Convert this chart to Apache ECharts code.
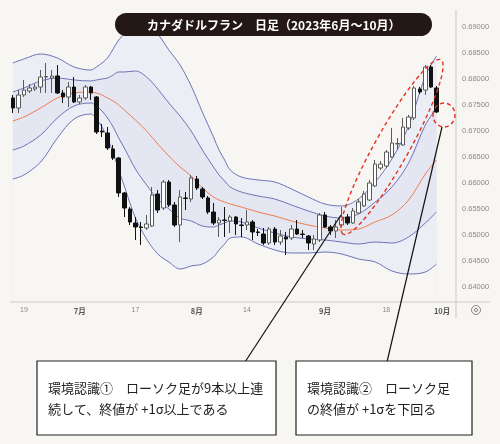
<!DOCTYPE html>
<html><head><meta charset="utf-8">
<script src="https://cdn.jsdelivr.net/npm/echarts@6/dist/echarts.min.js"></script>
<style>html,body{margin:0;padding:0;background:#f8f6f3;}#c{width:500px;height:444px;}</style>
</head><body><div id="c"></div>
<script>
const categories = [
'06-15','06-16','06-19','06-20','06-21','06-22','06-23','06-26','06-27','06-28','06-29','06-30',
'07-03','07-04','07-05','07-06','07-07','07-10','07-11','07-12','07-13','07-14','07-17','07-18','07-19','07-20','07-21','07-24','07-25','07-26','07-27','07-28','07-31',
'08-01','08-02','08-03','08-04','08-07','08-08','08-09','08-10','08-11','08-14','08-15','08-16','08-17','08-18','08-21','08-22','08-23','08-24','08-25','08-28','08-29','08-30','08-31',
'09-01','09-04','09-05','09-06','09-07','09-08','09-11','09-12','09-13','09-14','09-15','09-18','09-19','09-20','09-21','09-22','09-25','09-26','09-27','09-28','09-29',
'10-02','10-03','10-04'];
const tickDates = ['06-19','07-03','07-17','08-01','08-14','09-01','09-18','10-02'];
const tickTexts = ['19','7月','17','8月','14','9月','18','10月'];
const yTicks = [0.64,0.645,0.65,0.655,0.66,0.665,0.67,0.675,0.68,0.685,0.69];
const lastClose = 0.67366;

const opens = [0.67635,0.67442,0.67692,0.67769,0.67808,0.67846,0.68038,0.68019,0.68058,0.67731,
0.67654,0.67846,0.67558,0.67635,0.67846,0.67654,0.67000,0.66962,0.66654,0.66481,
0.65808,0.65500,0.65231,0.65154,0.65135,0.65173,0.65788,0.65519,0.66019,0.65577,
0.65192,0.65712,0.65692,0.66077,0.65885,0.65712,0.65442,0.65231,0.65288,0.65269,
0.65346,0.65192,0.65192,0.65250,0.65058,0.65019,0.64846,0.65115,0.64865,0.64962,
0.64942,0.65115,0.65019,0.64981,0.64827,0.64904,0.65385,0.65154,0.65077,0.65192,
0.65346,0.65231,0.65423,0.65558,0.65673,0.65942,0.66288,0.66327,0.66500,0.66750,
0.66731,0.67058,0.67250,0.67808,0.67788,0.68231,0.67827];
const closes = [0.67442,0.67692,0.67788,0.67827,0.67846,0.68038,0.68048,0.68058,0.67731,0.67654,
0.67846,0.67558,0.67635,0.67846,0.67731,0.66981,0.66981,0.66673,0.66481,0.65808,
0.65519,0.65250,0.65154,0.65144,0.65212,0.65769,0.65481,0.66019,0.65577,0.65192,
0.65731,0.65702,0.66096,0.65904,0.65731,0.65442,0.65231,0.65288,0.65279,0.65346,
0.65212,0.65183,0.65250,0.65058,0.65048,0.64846,0.65115,0.64865,0.64981,0.64923,
0.65115,0.65019,0.65010,0.64846,0.64923,0.65385,0.65154,0.65077,0.65154,0.65346,
0.65231,0.65462,0.65635,0.65788,0.66000,0.66365,0.66365,0.66596,0.66769,0.66760,
0.67077,0.67269,0.67827,0.67750,0.68231,0.67846,0.67366];
const lows = [0.67346,0.67346,0.67654,0.67731,0.67769,0.67731,0.67731,0.67731,0.67712,0.67538,
0.67462,0.67538,0.67519,0.67596,0.67596,0.66942,0.66885,0.66635,0.66442,0.65731,
0.65346,0.65192,0.64904,0.64808,0.65096,0.65154,0.65423,0.65481,0.65538,0.65154,
0.64865,0.65481,0.65635,0.65865,0.65692,0.65404,0.65192,0.64962,0.64962,0.65038,
0.65000,0.64962,0.65096,0.64904,0.64981,0.64808,0.64808,0.64808,0.64808,0.64615,
0.64904,0.65000,0.64942,0.64712,0.64712,0.64865,0.65135,0.65000,0.64942,0.65154,
0.65192,0.65212,0.65404,0.65538,0.65654,0.65923,0.66250,0.66288,0.66481,0.66635,
0.66712,0.67019,0.67212,0.67712,0.67692,0.67827,0.67346];
const highs = [0.67692,0.67788,0.67981,0.67904,0.67904,0.68173,0.68308,0.68173,0.68269,0.67788,
0.67942,0.68038,0.67692,0.67885,0.67865,0.67673,0.67135,0.67077,0.66731,0.66500,
0.65827,0.65538,0.65346,0.65250,0.65385,0.65923,0.65865,0.66058,0.66058,0.65635,
0.65865,0.65827,0.66154,0.66135,0.65923,0.65750,0.65615,0.65346,0.65538,0.65385,
0.65365,0.65327,0.65481,0.65288,0.65115,0.65135,0.65154,0.65154,0.65096,0.65058,
0.65192,0.65288,0.65096,0.65000,0.65000,0.65423,0.65442,0.65192,0.65288,0.65538,
0.65404,0.65519,0.65692,0.65846,0.66058,0.66442,0.66423,0.66635,0.67058,0.66865,
0.67250,0.67308,0.67865,0.67846,0.68269,0.68269,0.67865];

const bandIdx = [0,2,5,8,11,14,15,16,17,18,19,20,22,24,26,28,30,32,34,36,37,38,39,41,44,47,50,53,56,59,62,65,68,71,74,76];
const upper2 = [0.68308,0.68385,0.68481,0.68404,0.68231,0.68173,0.68231,0.68308,0.68404,0.68577,0.68750,0.68865,0.69096,0.69077,0.68865,0.68558,0.68269,0.67865,0.67365,0.66885,0.66635,0.66442,0.66250,0.66115,0.66058,0.66019,0.65885,0.65731,0.65596,0.65558,0.65692,0.66019,0.66462,0.67096,0.68058,0.68442];
const upper1 = [0.67750,0.67827,0.67962,0.68019,0.67981,0.67962,0.67981,0.68000,0.68019,0.68077,0.68135,0.68135,0.68154,0.68038,0.67808,0.67538,0.67288,0.67000,0.66635,0.66308,0.66154,0.66038,0.65923,0.65827,0.65750,0.65692,0.65577,0.65462,0.65365,0.65327,0.65404,0.65635,0.65923,0.66385,0.67115,0.67442];
const middle = [0.67192,0.67269,0.67442,0.67635,0.67731,0.67750,0.67731,0.67692,0.67635,0.67577,0.67500,0.67404,0.67212,0.67000,0.66750,0.66519,0.66308,0.66135,0.65904,0.65731,0.65673,0.65635,0.65596,0.65538,0.65442,0.65365,0.65269,0.65192,0.65135,0.65096,0.65115,0.65250,0.65385,0.65673,0.66173,0.66442];
const lower1 = [0.66635,0.66712,0.66923,0.67250,0.67481,0.67538,0.67481,0.67385,0.67250,0.67077,0.66865,0.66673,0.66269,0.65962,0.65692,0.65500,0.65327,0.65269,0.65173,0.65154,0.65192,0.65231,0.65269,0.65250,0.65135,0.65038,0.64962,0.64923,0.64904,0.64865,0.64827,0.64865,0.64846,0.64962,0.65231,0.65442];
const lower2 = [0.66077,0.66154,0.66404,0.66865,0.67231,0.67327,0.67231,0.67077,0.66865,0.66577,0.66250,0.65942,0.65327,0.64923,0.64635,0.64481,0.64346,0.64404,0.64442,0.64577,0.64712,0.64827,0.64942,0.64962,0.64827,0.64712,0.64654,0.64654,0.64673,0.64635,0.64538,0.64481,0.64308,0.64250,0.64288,0.64442];

const BG = '#f8f6f3';
const BAND_OUT = '#eceef5';
const BAND_IN = '#e4e7f1';
const LINE_BLUE = '#6c74b6';
const LINE_ORANGE = '#ee7c4e';
const CJK = '"Noto Sans CJK JP", "Noto Sans", sans-serif';

const ohlc = opens.map((o, i) => [o, closes[i], lows[i], highs[i]]);
const pts = arr => bandIdx.map((ix, k) => [ix, arr[k]]);

function bandSeries(name, arr, color, fill, z) {
  const s = {
    name, type: 'line', data: pts(arr), smooth: 0.35, symbol: 'none', z,
    lineStyle: { color, width: 1 }, silent: true, animation: false
  };
  if (fill) s.areaStyle = { color: fill, opacity: 1, origin: 'start' };
  return s;
}

const chart = echarts.init(document.getElementById('c'), null, { renderer: 'canvas' });
chart.setOption({
  backgroundColor: BG,
  animation: false,
  grid: { left: 10, right: 44, top: 10, bottom: 142, show: false },
  xAxis: {
    type: 'category', data: categories, boundaryGap: true,
    axisLine: { show: false }, axisTick: { show: false }, splitLine: { show: false },
    axisLabel: {
      interval: 0, margin: 5,
      formatter: v => {
        const k = tickDates.indexOf(v);
        if (k < 0) return '';
        const t = tickTexts[k];
        return t.indexOf('月') >= 0 ? '{m|' + t + '}' : '{d|' + t + '}';
      },
      rich: {
        m: { fontSize: 7.5, color: '#555', fontWeight: 'bold', fontFamily: CJK },
        d: { fontSize: 7, color: '#8a8a8a', fontFamily: 'Liberation Sans' }
      }
    }
  },
  yAxis: {
    type: 'value', position: 'right', min: 0.637115, max: 0.693269, scale: true,
    axisLine: { show: false }, axisTick: { show: false }, splitLine: { show: false },
    axisLabel: {
      customValues: yTicks, formatter: v => v.toFixed(5),
      color: '#8a8a8a', fontSize: 7.5, margin: 6, fontFamily: 'Liberation Sans'
    }
  },
  series: [
    bandSeries('+2σ', upper2, LINE_BLUE, BAND_OUT, 1),
    bandSeries('+1σ', upper1, LINE_BLUE, BAND_IN, 1),
    bandSeries('-1σ', lower1, LINE_BLUE, BAND_OUT, 1),
    bandSeries('-2σ', lower2, LINE_BLUE, BG, 1),
    bandSeries('MA', middle, LINE_ORANGE, null, 1),
    {
      type: 'candlestick', data: ohlc, barWidth: 4, z: 3,
      itemStyle: { color: '#ffffff', color0: '#111111', borderColor: '#5a5a5a', borderColor0: '#111111', borderWidth: 1 },
      markLine: {
        silent: true, symbol: ['none', 'none'], animation: false,
        data: [{ yAxis: lastClose }],
        lineStyle: { opacity: 0 },
        label: { position: 'end', distance: 6, formatter: () => lastClose.toFixed(5), color: '#333', fontSize: 7.5,
                 fontFamily: 'Liberation Sans', backgroundColor: BG, padding: [1, 1] }
      }
    }
  ],
  graphic: [
    { type: 'line', z: 50, shape: { x1: 10, y1: 302, x2: 490, y2: 302 }, style: { stroke: '#c9c9c9', lineWidth: 1 } },
    { type: 'line', z: 50, shape: { x1: 456, y1: 10, x2: 456, y2: 318 }, style: { stroke: '#c9c9c9', lineWidth: 1 } },
    { type: 'circle', z: 50, shape: { cx: 476, cy: 310, r: 4.5 }, style: { fill: 'none', stroke: '#888', lineWidth: 1 } },
    { type: 'circle', z: 50, shape: { cx: 476, cy: 310, r: 1.6 }, style: { fill: 'none', stroke: '#888', lineWidth: 1 } },
    { type: 'rect', z: 100, shape: { x: 115, y: 13, width: 317, height: 23, r: 11.5 }, style: { fill: '#231815' } },
    { type: 'text', z: 101, x: 147, y: 25, style: { text: 'カナダドルフラン　日足（2023年6月～10月）', fill: '#ffffff', font: 'bold 12px ' + CJK, textVerticalAlign: 'middle', verticalAlign: 'middle' } },
    { type: 'ellipse', z: 100, x: 392, y: 147, rotation: 1.06, shape: { cx: 0, cy: 0, rx: 100, ry: 17 }, style: { fill: 'none', stroke: '#e3321f', lineWidth: 1.4, lineDash: [4, 3] } },
    { type: 'ellipse', z: 100, x: 444, y: 115, shape: { cx: 0, cy: 0, rx: 11, ry: 12 }, style: { fill: 'none', stroke: '#e3321f', lineWidth: 1.4, lineDash: [4, 3] } },
    { type: 'line', z: 100, shape: { x1: 341, y1: 215, x2: 245, y2: 362 }, style: { stroke: '#111', lineWidth: 1.2 } },
    { type: 'line', z: 100, shape: { x1: 442, y1: 127, x2: 387, y2: 362 }, style: { stroke: '#111', lineWidth: 1.2 } },
    { type: 'rect', z: 100, shape: { x: 37, y: 361, width: 239, height: 74 }, style: { fill: '#ffffff', stroke: '#222', lineWidth: 1.2 } },
    { type: 'rect', z: 100, shape: { x: 296, y: 361, width: 176, height: 74 }, style: { fill: '#ffffff', stroke: '#222', lineWidth: 1.2 } },
    { type: 'text', z: 101, x: 48, y: 388, style: { text: '環境認識①　ローソク足が9本以上連', fill: '#222', font: '13px ' + CJK, verticalAlign: 'middle' } },
    { type: 'text', z: 101, x: 48, y: 409, style: { text: '続して、終値が +1σ以上である', fill: '#222', font: '13px ' + CJK, verticalAlign: 'middle' } },
    { type: 'text', z: 101, x: 307, y: 388, style: { text: '環境認識②　ローソク足', fill: '#222', font: '13px ' + CJK, verticalAlign: 'middle' } },
    { type: 'text', z: 101, x: 307, y: 409, style: { text: 'の終値が +1σを下回る', fill: '#222', font: '13px ' + CJK, verticalAlign: 'middle' } }
  ]
});
</script>
</body></html>
